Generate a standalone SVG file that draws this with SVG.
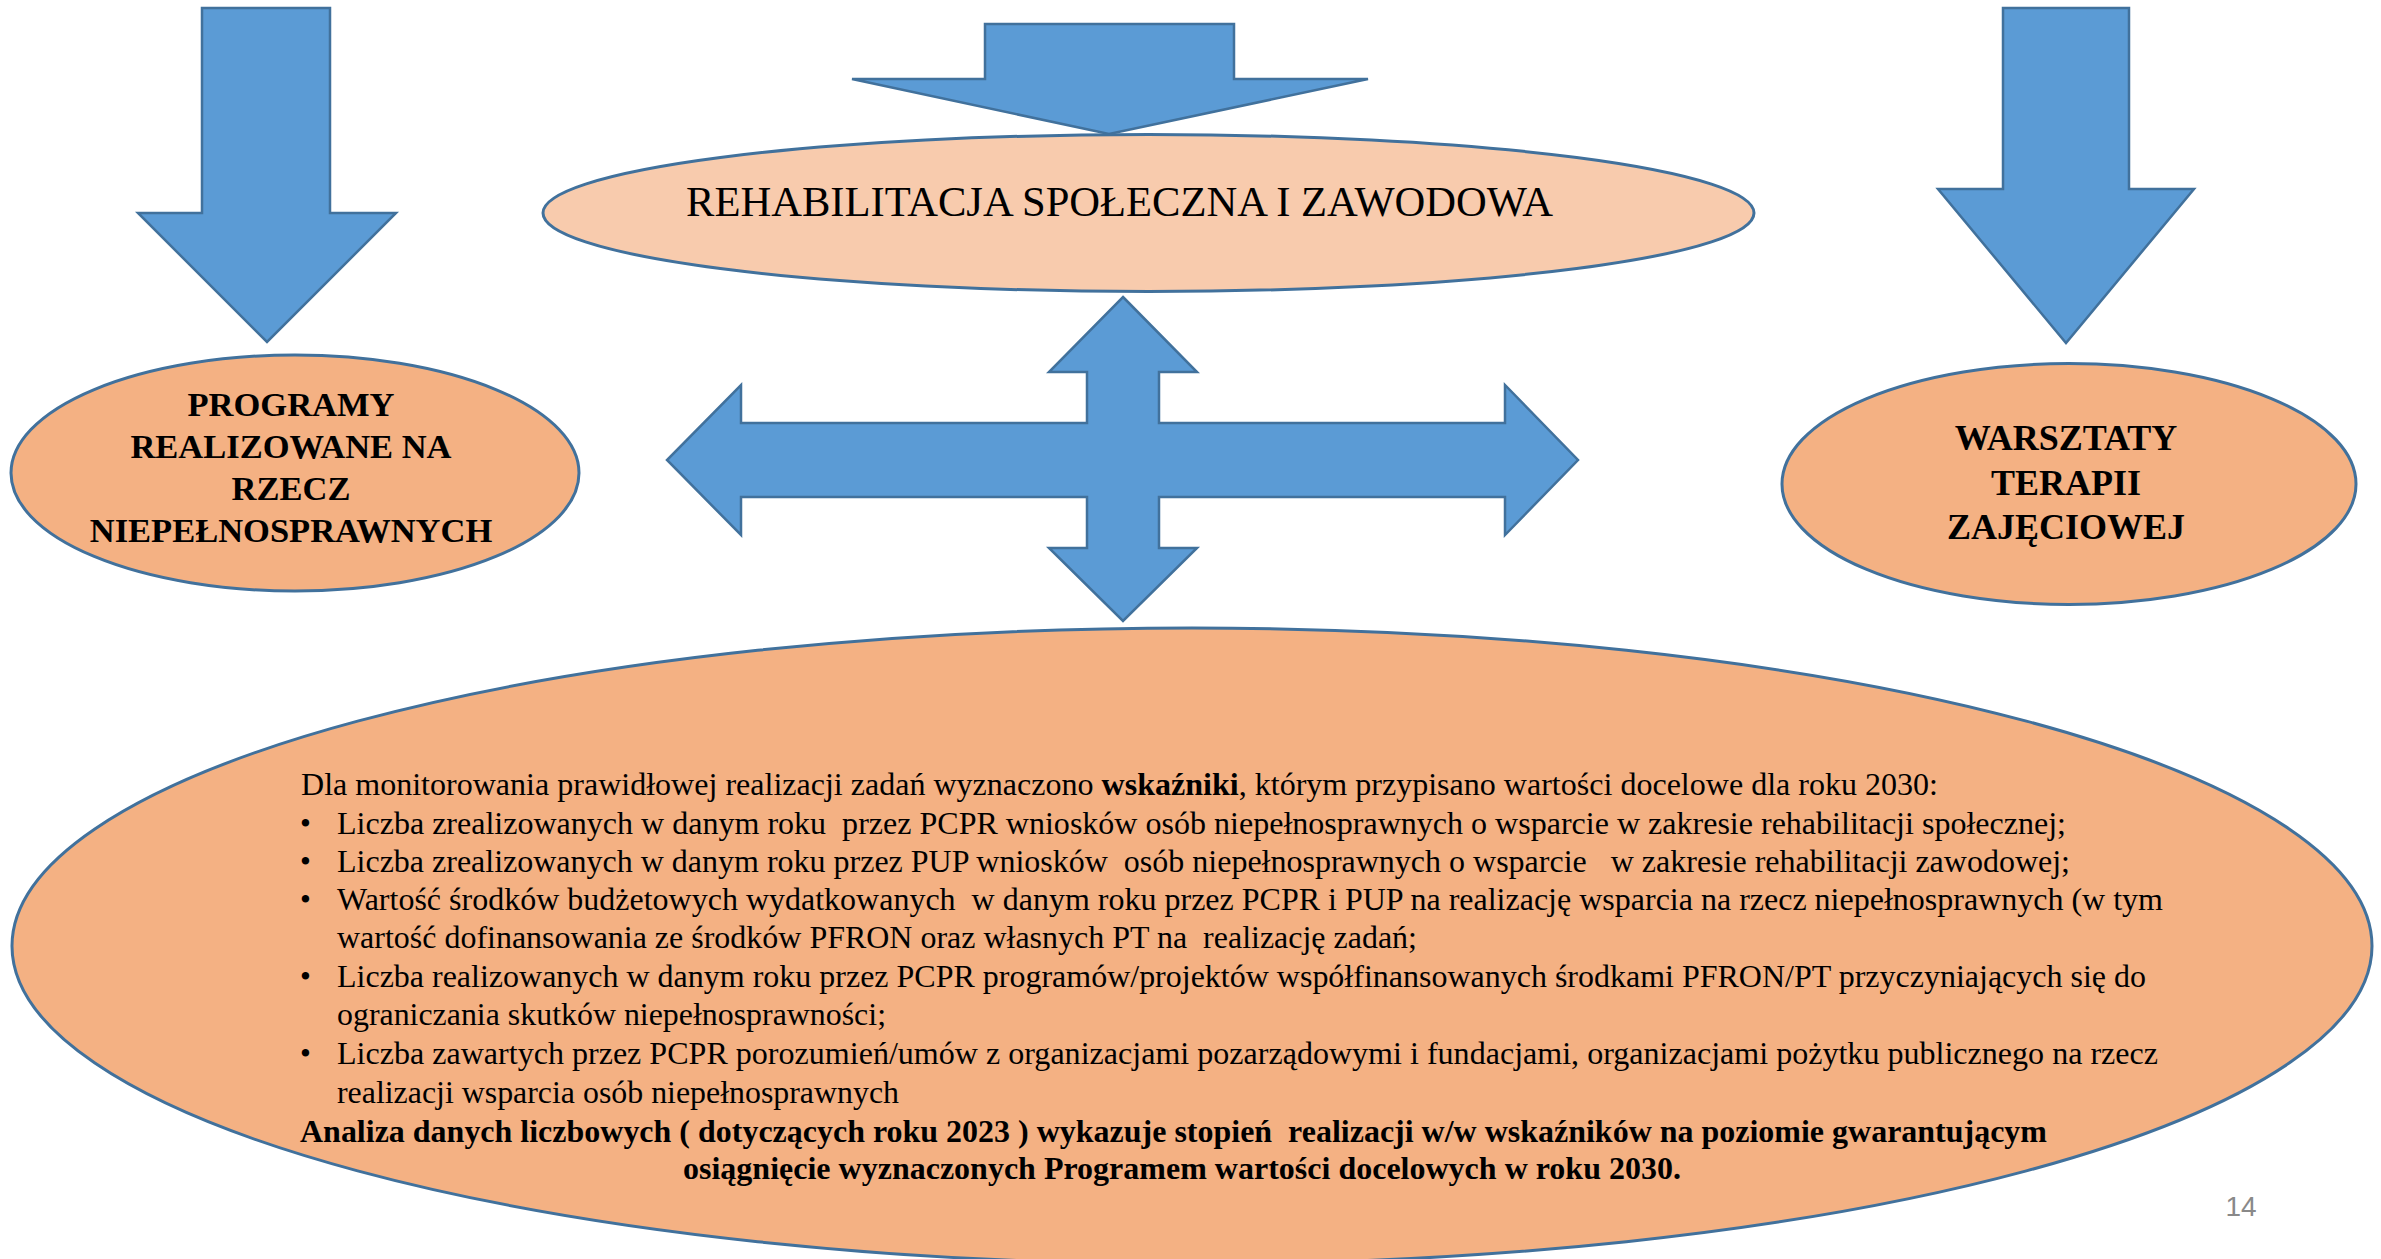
<svg xmlns="http://www.w3.org/2000/svg" width="2381" height="1259" viewBox="0 0 2381 1259">
<style>
.arrow{fill:#5B9BD5;stroke:#41719C;stroke-width:2.5;stroke-linejoin:miter}
.ell{stroke:#41719C;stroke-width:3}
.light{fill:#F8CBAD}
.dark{fill:#F4B183}
.hb{font-family:"Liberation Serif","Times New Roman",serif;font-weight:bold;font-size:35px;fill:#000;text-anchor:middle}
.t{font-family:"Liberation Serif","Times New Roman",serif;font-size:31px;fill:#000;white-space:pre}
.b{font-weight:bold}
</style>
<rect width="2381" height="1259" fill="#FFFFFF"/>
<g id="connectors">
<polygon class="arrow" points="202,8 330,8 330,213 396,213 267,342 138,213 202,213"/>
<polygon class="arrow" points="985,24 1234,24 1234,79 1368,79 1109,134 852,79 985,79"/>
<polygon class="arrow" points="2003,8 2129,8 2129,189 2194,189 2066,343 1938,189 2003,189"/>
<path class="arrow" d="M1123,297 L1197,372 L1159,372 L1159,423 L1505,423 L1505,385 L1578,460 L1505,535 L1505,497 L1159,497 L1159,548 L1197,548 L1123,621 L1049,548 L1087,548 L1087,497 L741,497 L741,535 L667,460 L741,385 L741,423 L1087,423 L1087,372 L1049,372 Z"/>
</g>
<g id="node-rehabilitacja">
<ellipse class="ell light" cx="1148.5" cy="213" rx="605.5" ry="78.5"/>
<text class="t" x="686" y="216" style="font-size:42.5px" textLength="867" lengthAdjust="spacingAndGlyphs">REHABILITACJA SPOŁECZNA I ZAWODOWA</text>
</g>
<g id="node-programy">
<ellipse class="ell dark" cx="295" cy="473" rx="284" ry="118"/>
<text class="hb" x="291" y="416" style="font-size:34.5px">PROGRAMY</text>
<text class="hb" x="291" y="458" style="font-size:34.5px">REALIZOWANE NA</text>
<text class="hb" x="291" y="500" style="font-size:34.5px">RZECZ</text>
<text class="hb" x="291" y="542" style="font-size:34.5px">NIEPEŁNOSPRAWNYCH</text>
</g>
<g id="node-warsztaty">
<ellipse class="ell dark" cx="2069" cy="484" rx="287" ry="120.5"/>
<text class="hb" x="2066" y="450" style="font-size:36px">WARSZTATY</text>
<text class="hb" x="2066" y="495" style="font-size:36px">TERAPII</text>
<text class="hb" x="2066" y="539" style="font-size:36px">ZAJĘCIOWEJ</text>
</g>
<g id="node-wskazniki">
<ellipse class="ell dark" cx="1192" cy="946" rx="1180" ry="318"/>
<text class="t" x="301" y="795" textLength="1637" lengthAdjust="spacingAndGlyphs">Dla monitorowania prawidłowej realizacji zadań wyznaczono <tspan class="b">wskaźniki</tspan>, którym przypisano wartości docelowe dla roku 2030:</text>
<text class="t" x="300" y="834">•</text>
<text class="t" x="337" y="834" textLength="1729" lengthAdjust="spacingAndGlyphs">Liczba zrealizowanych w danym roku  przez PCPR wniosków osób niepełnosprawnych o wsparcie w zakresie rehabilitacji społecznej;</text>
<text class="t" x="300" y="872">•</text>
<text class="t" x="337" y="872" textLength="1733" lengthAdjust="spacingAndGlyphs">Liczba zrealizowanych w danym roku przez PUP wniosków  osób niepełnosprawnych o wsparcie   w zakresie rehabilitacji zawodowej;</text>
<text class="t" x="300" y="910">•</text>
<text class="t" x="337" y="910" textLength="1826" lengthAdjust="spacingAndGlyphs">Wartość środków budżetowych wydatkowanych  w danym roku przez PCPR i PUP na realizację wsparcia na rzecz niepełnosprawnych (w tym</text>
<text class="t" x="337" y="948" textLength="1080" lengthAdjust="spacingAndGlyphs">wartość dofinansowania ze środków PFRON oraz własnych PT na  realizację zadań;</text>
<text class="t" x="300" y="987">•</text>
<text class="t" x="337" y="987" textLength="1809" lengthAdjust="spacingAndGlyphs">Liczba realizowanych w danym roku przez PCPR programów/projektów współfinansowanych środkami PFRON/PT przyczyniających się do</text>
<text class="t" x="337" y="1025" textLength="549" lengthAdjust="spacingAndGlyphs">ograniczania skutków niepełnosprawności;</text>
<text class="t" x="300" y="1064">•</text>
<text class="t" x="337" y="1064" textLength="1821" lengthAdjust="spacingAndGlyphs">Liczba zawartych przez PCPR porozumień/umów z organizacjami pozarządowymi i fundacjami, organizacjami pożytku publicznego na rzecz</text>
<text class="t" x="337" y="1103" textLength="562" lengthAdjust="spacingAndGlyphs">realizacji wsparcia osób niepełnosprawnych</text>
<text class="t b" x="300" y="1142" textLength="1747" lengthAdjust="spacingAndGlyphs">Analiza danych liczbowych ( dotyczących roku 2023 ) wykazuje stopień  realizacji w/w wskaźników na poziomie gwarantującym</text>
<text class="t b" x="683" y="1179" textLength="998" lengthAdjust="spacingAndGlyphs">osiągnięcie wyznaczonych Programem wartości docelowych w roku 2030.</text>
</g>
<text x="2241" y="1216" text-anchor="middle" style="font-family:'Liberation Sans',Arial,sans-serif;font-size:28px;fill:#898989">14</text>
</svg>
